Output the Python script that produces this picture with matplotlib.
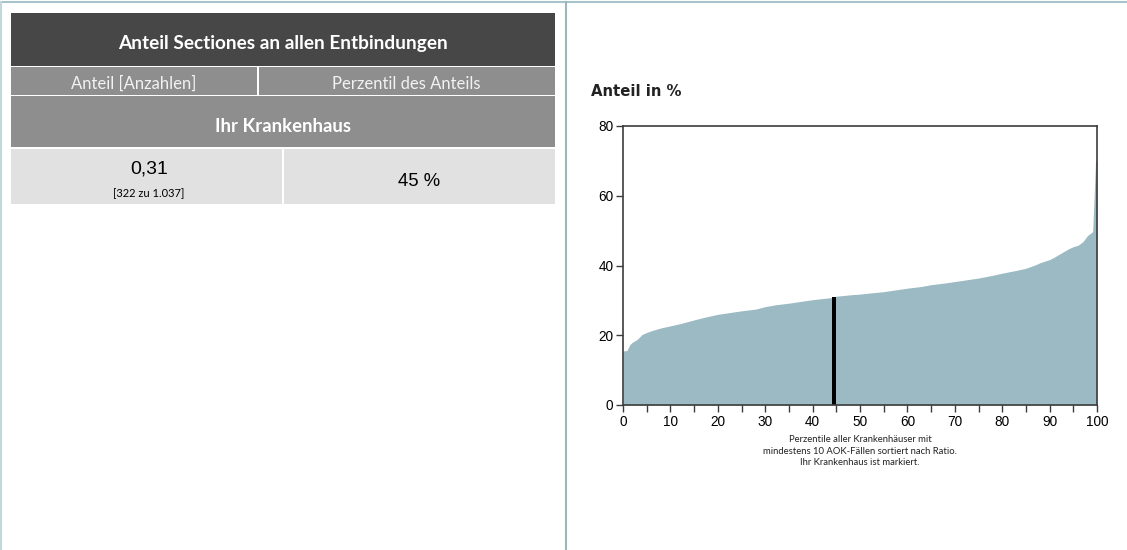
import matplotlib
matplotlib.use('Agg')
import matplotlib.pyplot as plt
from matplotlib.patches import Rectangle

# data
perzentil = [0, 0.8, 1.5, 2, 3, 4, 5, 6, 8, 10, 12, 15, 17, 20, 23, 25, 28, 30,
             32, 35, 38, 40, 42, 44, 45, 48, 50, 52, 55, 58, 60, 63, 65, 68, 70,
             72, 75, 78, 80, 83, 85, 87, 88, 90, 91, 92, 93, 94, 95, 96, 97, 98,
             99, 99.1, 99.7, 100]
anteil = [15.5, 15.6, 17.4, 18.0, 18.8, 20.2, 20.8, 21.3, 22.1, 22.7, 23.3, 24.4,
          25.1, 26.0, 26.6, 27.0, 27.5, 28.2, 28.7, 29.2, 29.8, 30.2, 30.5, 30.8,
          31.2, 31.6, 31.8, 32.1, 32.5, 33.1, 33.5, 34.0, 34.5, 35.0, 35.4, 35.8,
          36.4, 37.2, 37.8, 38.6, 39.2, 40.2, 40.8, 41.7, 42.4, 43.2, 44.0, 44.8,
          45.4, 45.8, 46.8, 48.6, 49.6, 50.0, 70.0, 70.3]
ihr_perzentil = 44.5
ihr_anteil = 31.0

titel = 'Anteil Sectiones an allen Entbindungen'
spalten = ['Anteil [Anzahlen]', 'Perzentil des Anteils']
zeile = 'Ihr Krankenhaus'
wert = '0,31'
wert_detail = '[322 zu 1.037]'
perzentil_text = '45 %'
y_titel = 'Anteil in %'
x_text = ('Perzentile aller Krankenhäuser mit\n'
          'mindestens 10 AOK-Fällen sortiert nach Ratio.\n'
          'Ihr Krankenhaus ist markiert.')

W, H = 1127, 550
narrow = ['Lato', 'DejaVu Sans']
arial = ['Liberation Sans', 'DejaVu Sans']

fig = plt.figure(figsize=(W / 100, H / 100), dpi=100)

# overlay in pixel coords for the table and the frame lines
bg = fig.add_axes([0, 0, 1, 1])
bg.set_xlim(0, W)
bg.set_ylim(H, 0)
bg.axis('off')

def rect(x0, y0, x1, y1, color):
    bg.add_patch(Rectangle((x0, y0), x1 - x0, y1 - y0, color=color, lw=0))

# frame lines
bg.plot([0, W], [2, 2], color='#a7c3cb', lw=1.5)
bg.plot([1, 1], [2, H], color='#c3d6dc', lw=1.5)
bg.plot([566, 566], [2, H], color='#9fb5bc', lw=1.5)

# table
rect(11, 13, 555, 66, '#474747')
rect(11, 67, 257, 95, '#8e8e8e')
rect(259, 67, 555, 95, '#8e8e8e')
rect(11, 96, 555, 147, '#8e8e8e')
rect(11, 149, 282, 204, '#e1e1e1')
rect(284, 149, 555, 204, '#e1e1e1')

bg.text(283, 43, titel, color='white', fontsize=13.7, fontweight='bold',
        family=narrow, ha='center', va='center')
bg.text(134, 84, spalten[0], color='#f2f2f2', fontsize=12, family=narrow,
        ha='center', va='center')
bg.text(406, 84, spalten[1], color='#f2f2f2', fontsize=12, family=narrow,
        ha='center', va='center')
bg.text(283, 126, zeile, color='white', fontsize=13.3, fontweight='bold',
        family=narrow, ha='center', va='center')
bg.text(149, 169, wert, color='black', fontsize=14, family=arial,
        ha='center', va='center')
bg.text(149, 194, wert_detail, color='black', fontsize=8, family=narrow,
        ha='center', va='center')
bg.text(419, 182, perzentil_text, color='black', fontsize=13.3, family=arial,
        ha='center', va='center')

# chart
ax = fig.add_axes([623 / W, (H - 405) / H, 474 / W, 279 / H])
ax.fill_between(perzentil, 0, anteil, color='#9bbac3', lw=0)
ax.bar(ihr_perzentil, ihr_anteil, width=1.0, color='black')
ax.set_xlim(0, 100)
ax.set_ylim(0, 80)
ax.set_xticks(range(0, 101, 10))
ax.set_xticks(range(0, 101, 5), minor=True)
ax.set_yticks(range(0, 81, 20))
for s in ax.spines.values():
    s.set_color('#3c3c3c')
    s.set_linewidth(1.2)
ax.tick_params(axis='both', labelsize=9.8, color='#3c3c3c', length=5, width=1,
               pad=2)
ax.tick_params(axis='x', which='minor', length=5, width=1, color='#3c3c3c')
for lab in ax.get_xticklabels() + ax.get_yticklabels():
    lab.set_family(arial)

bg.text(591, 91, y_titel, fontsize=10.7, fontweight='bold', color='#222222',
        family=['DejaVu Sans'], ha='left', va='center')
bg.text(860, 451, x_text, fontsize=6.8, family=narrow, color='#222222',
        ha='center', va='center', linespacing=1.35)

fig.savefig('out.png', dpi=100)
